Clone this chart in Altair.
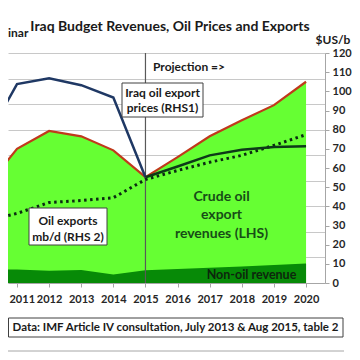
import altair as alt
import pandas as pd

# ---- data ----
years = [2010, 2011, 2012, 2013, 2014, 2015, 2016, 2017, 2018, 2019, 2020]
# budget revenues, trillion dinar (LHS)
oil_rev = [62.5, 94.5, 109.4, 104.6, 97.2, 72.9, 87.5, 102.8, 114.4, 125.1, 142.3]
nonoil_rev = [11.0, 10.5, 9.6, 10.2, 6.6, 9.9, 11.0, 12.0, 13.0, 14.1, 15.2]
# Iraq oil export prices, $US/b (RHS1)
hist_years = [2010, 2011, 2012, 2013, 2014, 2015]
price_hist = [73.7, 103.8, 106.8, 103.2, 96.8, 55.2]
proj_years = [2015, 2016, 2017, 2018, 2019, 2020]
price_proj = [55.2, 60.8, 66.6, 69.5, 70.9, 71.3]
# oil exports as plotted against the right-hand scale (RHS 2)
exports_rhs = [32.3, 36.3, 42.0, 43.0, 44.5, 54.0, 58.7, 63.0, 66.6, 71.8, 77.4]
projection_start = [2015]
x_ticks = list(range(2011, 2021))
rhs_ticks = list(range(0, 121, 10))
lhs_grid = list(range(0, 181, 20))

FONT = "Lato"
W, H = 317, 230

df_rev = pd.DataFrame({"year": years, "oil": oil_rev, "nonoil": nonoil_rev})
df_hist = pd.DataFrame({"year": hist_years, "price": price_hist})
df_proj = pd.DataFrame({"year": proj_years, "price": price_proj})
df_exp = pd.DataFrame({"year": years, "exports": exports_rhs})
df_div = pd.DataFrame({"year": projection_start})

x_axis = alt.Axis(values=x_ticks, format="d", title=None, grid=False,
                  labelFont=FONT, labelFontWeight="bold", labelFontSize=11,
                  labelColor="#262626", tickColor="#a6a6a6", domainColor="#a6a6a6",
                  tickSize=4, labelPadding=6, labelOverlap=False,
                  labelFlush=10, labelFlushOffset=8)
x_enc = alt.X("year:Q",
              scale=alt.Scale(domain=[2010.72, 2020.59], nice=False, zero=False),
              axis=x_axis)

lhs_scale = alt.Scale(domain=[0, 180], nice=False)
lhs_axis = alt.Axis(orient="left", values=lhs_grid, grid=True, gridColor="#c8c8c8",
                    gridWidth=1, labels=False, ticks=False, domain=False, title=None)

base_rev = alt.Chart(df_rev).transform_calculate(total="datum.oil + datum.nonoil")
area_total = base_rev.mark_area(color="#66ff33", opacity=1, clip=True).encode(
    x=x_enc, y=alt.Y("total:Q", scale=lhs_scale, axis=lhs_axis))
area_nonoil = base_rev.mark_area(color="#078a07", opacity=1, clip=True).encode(
    x=x_enc, y=alt.Y("nonoil:Q", scale=lhs_scale, axis=lhs_axis))
line_total = base_rev.mark_line(color="#c0391b", strokeWidth=2.2, clip=True).encode(
    x=x_enc, y=alt.Y("total:Q", scale=lhs_scale, axis=lhs_axis))
div_line = alt.Chart(df_div).mark_rule(color="#595959", strokeWidth=1.2).encode(
    x=x_enc, y=alt.value(0), y2=alt.value(H))
left = alt.layer(area_total, area_nonoil, line_total, div_line)

rhs_scale = alt.Scale(domain=[0, 120], nice=False)
rhs_axis = alt.Axis(orient="right", values=rhs_ticks, grid=False, title=None,
                    labelFont=FONT, labelFontWeight="bold", labelFontSize=11,
                    labelColor="#262626", tickColor="#a6a6a6", domainColor="#a6a6a6",
                    tickSize=4, labelPadding=3)

exp_line = alt.Chart(df_exp).mark_line(color="#0b2a12", strokeWidth=3,
                                        strokeDash=[2.5, 3.5], clip=True).encode(
    x=x_enc, y=alt.Y("exports:Q", scale=rhs_scale, axis=rhs_axis))
hist_line = alt.Chart(df_hist).mark_line(color="#1f3864", strokeWidth=2.5, clip=True).encode(
    x=x_enc, y=alt.Y("price:Q", scale=rhs_scale, axis=rhs_axis))
proj_line = alt.Chart(df_proj).mark_line(color="#0d3a18", strokeWidth=2.5, clip=True).encode(
    x=x_enc, y=alt.Y("price:Q", scale=rhs_scale, axis=rhs_axis))
right = alt.layer(exp_line, hist_line, proj_line)

one = alt.Data(values=[{"a": 1}])


def txt(s, x, y, size=12, color="#1a1a1a", align="center"):
    return alt.Chart(one).mark_text(
        text=s, font=FONT, fontSize=size, fontWeight="bold", color=color,
        align=align, baseline="middle").encode(x=alt.value(x), y=alt.value(y))


def box(x1, x2, y1, y2):
    return alt.Chart(one).mark_rect(fill="white", stroke="#404040", strokeWidth=1).encode(
        x=alt.value(x1), x2=alt.value(x2), y=alt.value(y1), y2=alt.value(y2))


annots = [
    txt("Iraq Budget Revenues, Oil Prices and Exports", 162, -26, size=14),
    txt("inar", 0, -20, size=12, align="left"),
    txt("$US/b", 325, -13, size=12),
    txt("Projection =>", 145, 14, size=12, align="left"),
    box(114, 195, 30, 64),
    txt("Iraq oil export", 154.5, 40, size=12),
    txt("prices (RHS1)", 154.5, 55, size=12),
    box(21, 99, 155, 192),
    txt("Oil exports", 60, 167.5, size=12),
    txt("mb/d (RHS 2)", 60, 183.5, size=12),
    txt("Crude oil", 213.5, 143.5, size=14, color="#174d17"),
    txt("export", 213.5, 162, size=14, color="#174d17"),
    txt("revenues (LHS)", 213.5, 180.5, size=14, color="#174d17"),
    txt("Non-oil revenue", 243.5, 222, size=12.5, color="#0d260d"),
    box(0.5, 335, 265, 284),
    txt("Data: IMF Article IV consultation, July 2013 & Aug 2015, table 2", 167.5, 275, size=11.5),
    alt.Chart(one).mark_rule(color="#a6a6a6", strokeWidth=1).encode(
        x=alt.value(0), x2=alt.value(336), y=alt.value(298)),
]

chart = alt.layer(left, right, *annots).resolve_scale(y="independent").properties(
    width=W, height=H,
    autosize=alt.AutoSizeParams(type="none"),
    padding={"left": 0, "top": 45, "right": 27, "bottom": 69},
    background="white",
).configure_view(strokeWidth=0).configure_axisX(labelOverlap=False)

chart.save("out.html", embed_options={"renderer": "svg", "actions": False})
